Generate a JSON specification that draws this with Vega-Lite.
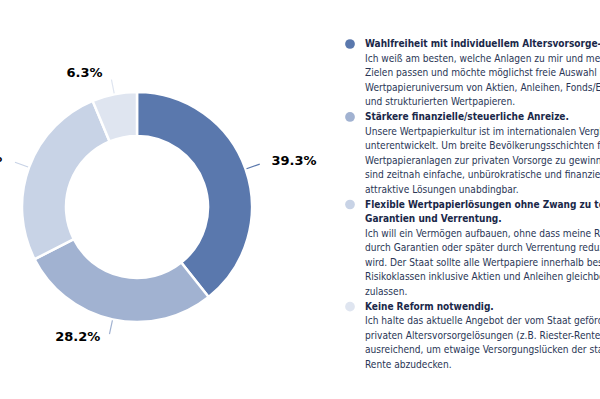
{
  "$schema": "https://vega.github.io/schema/vega-lite/v6.json",
  "width": 600,
  "height": 399,
  "autosize": {"type": "none"},
  "padding": 0,
  "background": "white",
  "config": {"view": {"stroke": null}},
  "datasets": {
    "slices": [
      {"idx": 1, "cat": "Wahlfreiheit", "value": 39.3, "label": "39.3%"},
      {"idx": 2, "cat": "Anreize", "value": 28.2, "label": "28.2%"},
      {"idx": 3, "cat": "Flexibel", "value": 26.2, "label": "26.2%"},
      {"idx": 4, "cat": "Keine Reform", "value": 6.3, "label": "6.3%"}
    ],
    "legend": [
      {"cat": "Wahlfreiheit", "row": 0, "kind": "title", "first": true, "text": "Wahlfreiheit mit individuellem Altersvorsorge-Depot."},
      {"cat": "Wahlfreiheit", "row": 1, "kind": "text", "first": false, "text": "Ich weiß am besten, welche Anlagen zu mir und meinen"},
      {"cat": "Wahlfreiheit", "row": 2, "kind": "text", "first": false, "text": "Zielen passen und möchte möglichst freie Auswahl im"},
      {"cat": "Wahlfreiheit", "row": 3, "kind": "text", "first": false, "text": "Wertpapieruniversum von Aktien, Anleihen, Fonds/ETFs"},
      {"cat": "Wahlfreiheit", "row": 4, "kind": "text", "first": false, "text": "und strukturierten Wertpapieren."},
      {"cat": "Anreize", "row": 5, "kind": "title", "first": true, "text": "Stärkere finanzielle/steuerliche Anreize."},
      {"cat": "Anreize", "row": 6, "kind": "text", "first": false, "text": "Unsere Wertpapierkultur ist im internationalen Vergleich"},
      {"cat": "Anreize", "row": 7, "kind": "text", "first": false, "text": "unterentwickelt. Um breite Bevölkerungsschichten für"},
      {"cat": "Anreize", "row": 8, "kind": "text", "first": false, "text": "Wertpapieranlagen zur privaten Vorsorge zu gewinnen,"},
      {"cat": "Anreize", "row": 9, "kind": "text", "first": false, "text": "sind zeitnah einfache, unbürokratische und finanziell"},
      {"cat": "Anreize", "row": 10, "kind": "text", "first": false, "text": "attraktive Lösungen unabdingbar."},
      {"cat": "Flexibel", "row": 11, "kind": "title", "first": true, "text": "Flexible Wertpapierlösungen ohne Zwang zu teuren"},
      {"cat": "Flexibel", "row": 12, "kind": "title", "first": false, "text": "Garantien und Verrentung."},
      {"cat": "Flexibel", "row": 13, "kind": "text", "first": false, "text": "Ich will ein Vermögen aufbauen, ohne dass meine Rendite"},
      {"cat": "Flexibel", "row": 14, "kind": "text", "first": false, "text": "durch Garantien oder später durch Verrentung reduziert"},
      {"cat": "Flexibel", "row": 15, "kind": "text", "first": false, "text": "wird. Der Staat sollte alle Wertpapiere innerhalb bestimmter"},
      {"cat": "Flexibel", "row": 16, "kind": "text", "first": false, "text": "Risikoklassen inklusive Aktien und Anleihen gleichberechtigt"},
      {"cat": "Flexibel", "row": 17, "kind": "text", "first": false, "text": "zulassen."},
      {"cat": "Keine Reform", "row": 18, "kind": "title", "first": true, "text": "Keine Reform notwendig."},
      {"cat": "Keine Reform", "row": 19, "kind": "text", "first": false, "text": "Ich halte das aktuelle Angebot der vom Staat geförderten"},
      {"cat": "Keine Reform", "row": 20, "kind": "text", "first": false, "text": "privaten Altersvorsorgelösungen (z.B. Riester-Rente) für"},
      {"cat": "Keine Reform", "row": 21, "kind": "text", "first": false, "text": "ausreichend, um etwaige Versorgungslücken der staatlichen"},
      {"cat": "Keine Reform", "row": 22, "kind": "text", "first": false, "text": "Rente abzudecken."}
    ]
  },
  "layer": [
    {
      "data": {"name": "slices"},
      "mark": {"type": "arc", "x": 137, "y": 207, "outerRadius": 115, "innerRadius": 71, "stroke": "white", "strokeWidth": 2.5},
      "encoding": {
        "theta": {"field": "value", "type": "quantitative", "stack": true, "scale": {"domain": [0, 100]}},
        "order": {"field": "idx", "type": "quantitative", "sort": "ascending"},
        "color": {"field": "cat", "type": "nominal", "legend": null,
          "scale": {"domain": ["Wahlfreiheit", "Anreize", "Flexibel", "Keine Reform"], "range": ["#5a78ad", "#a1b2d1", "#c8d3e6", "#dfe5f0"]}}
      }
    },
    {
      "data": {"name": "slices"},
      "transform": [
        {"window": [{"op": "sum", "field": "value", "as": "cum"}], "sort": [{"field": "idx"}]},
        {"calculate": "datum.cum - datum.value / 2", "as": "mid"}
      ],
      "layer": [
        {
          "mark": {"type": "arc", "x": 137, "y": 207, "radius": 130, "radius2": 116, "fill": "transparent", "strokeWidth": 1.2},
          "encoding": {
            "theta": {"field": "mid", "type": "quantitative", "scale": {"domain": [0, 100]}},
            "theta2": {"field": "mid"},
            "stroke": {"field": "cat", "type": "nominal", "legend": null,
              "scale": {"domain": ["Wahlfreiheit", "Anreize", "Flexibel", "Keine Reform"], "range": ["#5a78ad", "#a1b2d1", "#c8d3e6", "#dfe5f0"]}}
          }
        },
        {
          "transform": [{"filter": "datum.mid < 50"}],
          "mark": {"type": "text", "x": 137, "y": 207, "radius": 135, "align": "left", "baseline": "middle", "dx": 7, "dy": -1, "font": "DejaVu Sans", "fontSize": 13, "fontWeight": "bold", "fill": "#000000"},
          "encoding": {
            "theta": {"field": "mid", "type": "quantitative", "scale": {"domain": [0, 100]}},
            "text": {"field": "label"}
          }
        },
        {
          "transform": [{"filter": "datum.mid >= 50"}],
          "mark": {"type": "text", "x": 137, "y": 207, "radius": 135, "align": "right", "baseline": "middle", "dx": -8, "dy": -2, "font": "DejaVu Sans", "fontSize": 13, "fontWeight": "bold", "fill": "#000000"},
          "encoding": {
            "theta": {"field": "mid", "type": "quantitative", "scale": {"domain": [0, 100]}},
            "text": {"field": "label"}
          }
        }
      ]
    },
    {
      "data": {"name": "legend"},
      "layer": [
        {
          "transform": [{"filter": "datum.first"}],
          "mark": {"type": "circle", "x": 350, "size": 95, "opacity": 1},
          "encoding": {
            "y": {"field": "row", "type": "quantitative", "axis": null, "scale": {"domain": [0, 22], "range": [44, 365]}},
            "color": {"field": "cat", "type": "nominal", "legend": null,
              "scale": {"domain": ["Wahlfreiheit", "Anreize", "Flexibel", "Keine Reform"], "range": ["#5a78ad", "#a1b2d1", "#c8d3e6", "#dfe5f0"]}}
          }
        },
        {
          "transform": [{"filter": "datum.kind == 'title'"}],
          "mark": {"type": "text", "x": 365, "align": "left", "baseline": "middle", "font": "DejaVu Sans Condensed", "fontSize": 10, "fontWeight": "bold", "fill": "#1a2849"},
          "encoding": {
            "y": {"field": "row", "type": "quantitative", "axis": null, "scale": {"domain": [0, 22], "range": [44, 365]}},
            "text": {"field": "text"}
          }
        },
        {
          "transform": [{"filter": "datum.kind == 'text'"}],
          "mark": {"type": "text", "x": 365, "align": "left", "baseline": "middle", "font": "DejaVu Sans Condensed", "fontSize": 10.1, "fill": "#2a3656"},
          "encoding": {
            "y": {"field": "row", "type": "quantitative", "axis": null, "scale": {"domain": [0, 22], "range": [44, 365]}},
            "text": {"field": "text"}
          }
        }
      ]
    }
  ]
}
